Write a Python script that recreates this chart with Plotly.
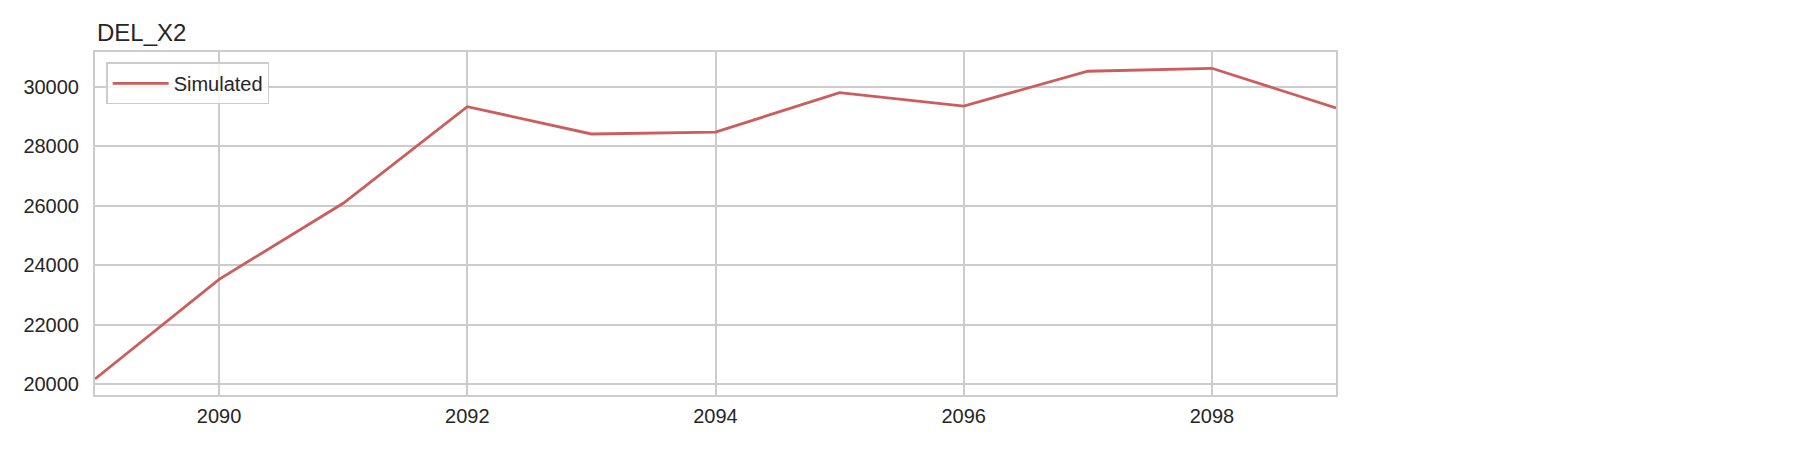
import plotly.graph_objects as go

# annual values
years = [2089, 2090, 2091, 2092, 2093, 2094, 2095, 2096, 2097, 2098, 2099]
simulated = [20170, 23520, 26080, 29330, 28410, 28475, 29800, 29350, 30520, 30620, 29285]

x_ticks = [2090, 2092, 2094, 2096, 2098]
y_ticks = [20000, 22000, 24000, 26000, 28000, 30000]

text_color = "#262626"
grid_color = "#cccccc"
font_family = "Liberation Sans, Arial, sans-serif"

fig = go.Figure()

fig.add_trace(go.Scatter(
    x=years, y=simulated, mode="lines", name="Simulated",
    line=dict(color="#CD5C5C", width=2.8),
))

# page body adds an 8px offset, margins are trimmed to compensate
fig.update_layout(
    width=1800, height=450,
    margin=dict(l=87, r=472, t=44, b=63),
    paper_bgcolor="white",
    plot_bgcolor="white",
    font=dict(family=font_family, size=20, color=text_color),
    showlegend=True,
    legend=dict(
        x=0.009, y=0.97, xanchor="left", yanchor="top",
        bgcolor="rgba(255,255,255,0.8)",
        bordercolor=grid_color, borderwidth=1.5,
        itemwidth=56,
        font=dict(size=20, color=text_color),
    ),
)

# title pinned to the left edge of the data range
fig.add_annotation(
    text="DEL_X2", xref="x", yref="paper", x=years[0], y=1,
    xanchor="left", yanchor="bottom", yshift=4, showarrow=False,
    font=dict(size=24, color=text_color, family=font_family),
)

fig.update_xaxes(
    range=[2089, 2099], tickvals=x_ticks,
    showgrid=True, gridcolor=grid_color, gridwidth=1.5,
    showline=True, linecolor=grid_color, linewidth=2, mirror=True,
    ticks="outside", ticklen=2, tickcolor="rgba(0,0,0,0)",
    zeroline=False,
)
fig.update_yaxes(
    range=[19630, 31168], tickvals=y_ticks,
    ticktext=[str(v) for v in y_ticks],
    showgrid=True, gridcolor=grid_color, gridwidth=1.5,
    showline=True, linecolor=grid_color, linewidth=2, mirror=True,
    ticks="outside", ticklen=10, tickcolor="rgba(0,0,0,0)",
    zeroline=False,
)

fig.write_html("out.html")
